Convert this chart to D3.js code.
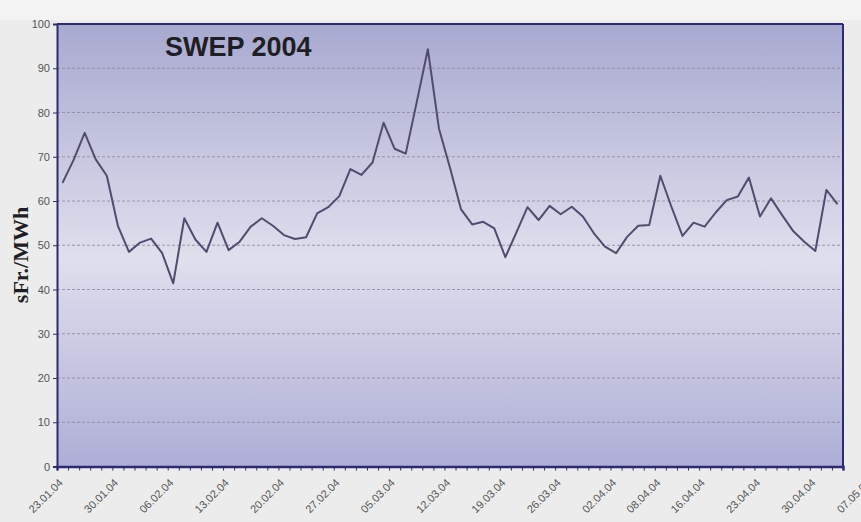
<!DOCTYPE html>
<html lang="de">
<head>
<meta charset="utf-8">
<title>SWEP 2004</title>
<script src="https://cdn.jsdelivr.net/npm/d3@7"></script>
<style>
  body { margin: 0; background: #ececec; }
  .axis path, .axis line { fill: none; stroke: #2c2a70; }
  .axis text { font-family: "Liberation Sans", Arial, sans-serif; font-size: 11px; fill: #555; }
  .grid line { stroke: #8a8794; stroke-dasharray: 3,2; stroke-width: 0.8; }
</style>
</head>
<body>
<div id="chart"></div>
<script>
// Tagespreise SWEP (sFr./MWh), ein Wert pro Handelstag ab 23.01.04
var prices = [64.1, 69.3, 75.4, 69.4, 65.7, 54.4, 48.5, 50.6, 51.5, 48.2,
              41.4, 56.1, 51.3, 48.5, 55.1, 48.9, 50.8, 54.2, 56.1, 54.4,
              52.3, 51.4, 51.8, 57.2, 58.6, 61.1, 67.2, 65.9, 68.7, 77.7,
              71.8, 70.7, 82.4, 94.3, 76.4, 67.5, 58.1, 54.7, 55.3, 53.8,
              47.3, 52.9, 58.6, 55.7, 58.9, 57.0, 58.7, 56.5, 52.7, 49.7,
              48.2, 51.9, 54.4, 54.6, 65.7, 58.7, 52.1, 55.1, 54.2, 57.4,
              60.2, 61.0, 65.3, 56.5, 60.6, 56.8, 53.2, 50.8, 48.7, 62.5,
              59.3];
// Achsenbeschriftung und Position (Handelstag-Nummer)
var tickLabels = ["23.01.04", "30.01.04", "06.02.04", "13.02.04", "20.02.04", "27.02.04",
                  "05.03.04", "12.03.04", "19.03.04", "26.03.04", "02.04.04", "08.04.04",
                  "16.04.04", "23.04.04", "30.04.04", "07.05.04"];
var tickDay = [0, 5, 10, 15, 20, 25, 30, 35, 40, 45, 50, 54, 58, 63, 68, 73];
var yTicks = [0, 10, 20, 30, 40, 50, 60, 70, 80, 90, 100];

var w = 861, h = 522;
var plotL = 57, plotR = 843, plotT = 24, plotB = 466.5;

var svg = d3.select("#chart").append("svg")
            .attr("width", w).attr("height", h);

svg.append("rect").attr("width", w).attr("height", h).attr("fill", "#ececec");
svg.append("rect").attr("width", w).attr("height", 20).attr("fill", "#f3f3f3");

var x = d3.scaleLinear().domain([0, prices.length]).range([plotL, plotR]);
var y = d3.scaleLinear().domain([0, 100]).range([plotB, plotT]);

// Hintergrund mit Verlauf
var grad = svg.append("defs").append("linearGradient")
              .attr("id", "bg").attr("x1", 0).attr("y1", 0).attr("x2", 0).attr("y2", 1);
grad.append("stop").attr("offset", "0%").attr("stop-color", "#a8a9d0");
grad.append("stop").attr("offset", "53%").attr("stop-color", "#dfdfed");
grad.append("stop").attr("offset", "100%").attr("stop-color", "#aeaed6");

svg.append("rect")
   .attr("x", plotL).attr("y", plotT)
   .attr("width", plotR - plotL).attr("height", plotB - plotT)
   .attr("fill", "url(#bg)");

// Gitterlinien
svg.append("g").attr("class", "grid")
   .selectAll("line")
   .data(yTicks.slice(1, -1))
   .enter().append("line")
   .attr("x1", plotL).attr("x2", plotR)
   .attr("y1", function(d){ return y(d); })
   .attr("y2", function(d){ return y(d); });

// Rahmen oben / rechts
svg.append("line").attr("x1", plotL).attr("x2", plotR).attr("y1", plotT).attr("y2", plotT)
   .attr("stroke", "#2c2a70").attr("stroke-width", 2);
svg.append("line").attr("x1", plotR).attr("x2", plotR).attr("y1", plotT).attr("y2", plotB)
   .attr("stroke", "#2c2a70").attr("stroke-width", 2);

// Linie
var line = d3.line()
             .x(function(d, i){ return x(i + 0.5); })
             .y(function(d){ return y(d); });
svg.append("path")
   .datum(prices)
   .attr("d", line)
   .attr("fill", "none")
   .attr("stroke", "#514b6d")
   .attr("stroke-width", 2)
   .attr("stroke-linejoin", "round");

// y-Achse
var yAxis = d3.axisLeft(y).tickValues(yTicks).tickSize(4).tickPadding(3);
svg.append("g")
   .attr("class", "axis")
   .attr("transform", "translate(" + plotL + ",0)")
   .call(yAxis)
   .call(function(g){ g.select(".domain").attr("stroke-width", 2); });

// x-Achse: Teilstriche zwischen den Tagen
var xAxis = d3.axisBottom(x).tickValues(d3.range(0, prices.length + 1))
              .tickSize(4).tickFormat("");
svg.append("g")
   .attr("class", "axis")
   .attr("transform", "translate(0," + plotB + ")")
   .call(xAxis)
   .call(function(g){ g.select(".domain").attr("stroke-width", 2.5); });

// x-Beschriftung, 45 Grad gedreht
svg.append("g")
   .selectAll("text")
   .data(tickLabels)
   .enter().append("text")
   .attr("transform", function(d, i){
       return "translate(" + (x(tickDay[i] + 0.5) + 1) + "," + (plotB + 17) + ") rotate(-45)";
   })
   .attr("text-anchor", "end")
   .attr("font-family", "Liberation Sans, Arial, sans-serif")
   .attr("font-size", "11px")
   .attr("fill", "#555")
   .text(function(d){ return d; });

// Titel
svg.append("text")
   .attr("x", 165).attr("y", 56)
   .attr("font-family", "Liberation Sans, Arial, sans-serif")
   .attr("font-weight", "bold")
   .attr("font-size", "27px")
   .attr("fill", "#1e1e24")
   .text("SWEP 2004");

// Achsentitel
svg.append("text")
   .attr("transform", "translate(28,255) rotate(-90)")
   .attr("text-anchor", "middle")
   .attr("font-family", "Liberation Serif, Times New Roman, serif")
   .attr("font-weight", "bold")
   .attr("font-size", "22px")
   .attr("fill", "#1e1e24")
   .text("sFr./MWh");
</script>
</body>
</html>
